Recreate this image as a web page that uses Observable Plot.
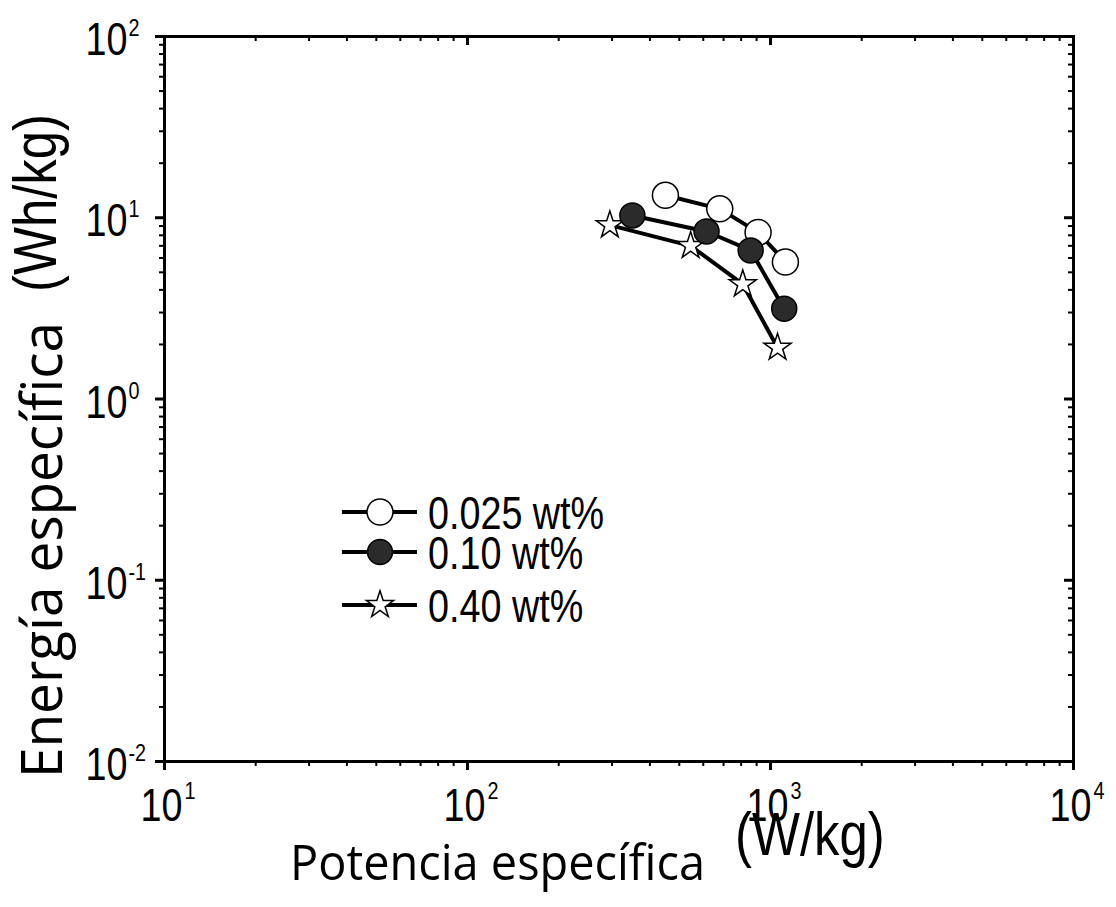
<!DOCTYPE html>
<html><head><meta charset="utf-8">
<script src="https://cdn.jsdelivr.net/npm/d3@7"></script>
<script src="https://cdn.jsdelivr.net/npm/@observablehq/plot@0.6"></script>
<style>html,body{margin:0;padding:0;background:#fff;} svg{display:block}</style>
</head><body><div id="chart"></div>
<script>
// ---- data ----
const seriesLabels = ["0.025 wt%", "0.10 wt%", "0.40 wt%"];
const power025  = [450, 680, 910, 1120];
const energy025 = [13.3, 11.2, 8.3, 5.7];
const power010  = [350, 615, 860, 1110];
const energy010 = [10.3, 8.4, 6.6, 3.15];
const power040  = [295, 545, 810, 1055];
const energy040 = [9.1, 7.0, 4.3, 1.92];
const xTicks = [10, 100, 1000, 10000];
const xTickExp = ["1", "2", "3", "4"];
const yTicks = [0.01, 0.1, 1, 10, 100];
const yTickExp = ["-2", "-1", "0", "1", "2"];
const xLabel = "Potencia específica";
const xUnit = "(W/kg)";
const yLabel = "Energía específica";
const yUnit = "(Wh/kg)";

const rows = (p, e, s) => p.map((x, i) => ({power: x, energy: e[i], series: s}));
const d025 = rows(power025, energy025, seriesLabels[0]);
const d010 = rows(power010, energy010, seriesLabels[1]);
const d040 = rows(power040, energy040, seriesLabels[2]);
const minorOf = ticks => ticks.slice(0, -1).flatMap(d => [2,3,4,5,6,7,8,9].map(k => d * k));
const xMinor = minorOf(xTicks);
const yMinor = minorOf(yTicks);

const W = 1116, H = 907, mL = 164, mR = 43, mT = 36, mB = 146;
const pw = W - mL - mR, ph = H - mT - mB;
const font = '"Liberation Sans", Arial, sans-serif';
const titleFont = '"Open Sans", "Noto Sans", sans-serif';

const chart = Plot.plot({
  width: W, height: H,
  marginLeft: mL, marginRight: mR, marginTop: mT, marginBottom: mB,
  x: {type: "log", domain: [10, 1e4], axis: null},
  y: {type: "log", domain: [0.01, 100], axis: null},
  style: {background: "white", color: "black", fontFamily: font},
  marks: [
    // ticks: bottom/left outward, top/right inward
    Plot.tickX(xTicks, {x: d => d, insetTop: ph, insetBottom: -9, stroke: "black", strokeWidth: 3}),
    Plot.tickX(xMinor, {x: d => d, insetTop: ph, insetBottom: -5, stroke: "black", strokeWidth: 2}),
    Plot.tickX(xTicks, {x: d => d, insetTop: 0, insetBottom: ph - 9, stroke: "black", strokeWidth: 3}),
    Plot.tickX(xMinor, {x: d => d, insetTop: 0, insetBottom: ph - 5, stroke: "black", strokeWidth: 2}),
    Plot.tickY(yTicks, {y: d => d, insetLeft: -9, insetRight: pw, stroke: "black", strokeWidth: 3}),
    Plot.tickY(yMinor, {y: d => d, insetLeft: -5, insetRight: pw, stroke: "black", strokeWidth: 2}),
    Plot.tickY(yTicks, {y: d => d, insetLeft: pw - 9, insetRight: 0, stroke: "black", strokeWidth: 3}),
    Plot.tickY(yMinor, {y: d => d, insetLeft: pw - 5, insetRight: 0, stroke: "black", strokeWidth: 2}),
    Plot.frame({stroke: "black", strokeWidth: 3}),
    // tick labels
    Plot.text(xTicks, {x: d => d, frameAnchor: "bottom", lineAnchor: "middle", text: () => "10", dx: -3, dy: 45, fontSize: 46, fill: "black"}),
    Plot.text(xTicks, {x: d => d, frameAnchor: "bottom", lineAnchor: "middle", text: (d, i) => xTickExp[i], dx: 20, dy: 30, fontSize: 24, textAnchor: "start", fill: "black"}),
    Plot.text(yTicks, {y: d => d, frameAnchor: "left", lineAnchor: "middle", text: () => "10", dx: -37, dy: 4, fontSize: 46, textAnchor: "end", fill: "black"}),
    Plot.text(yTicks, {y: d => d, frameAnchor: "left", lineAnchor: "middle", text: (d, i) => yTickExp[i], dx: -36, dy: -8, fontSize: 24, textAnchor: "start", fill: "black"}),
    // data
    Plot.line(d025, {x: "power", y: "energy", stroke: "black", strokeWidth: 4}),
    Plot.dot(d025, {x: "power", y: "energy", r: 13, fill: "white", stroke: "black", strokeWidth: 1.5}),
    Plot.line(d040, {x: "power", y: "energy", stroke: "black", strokeWidth: 4}),
    Plot.dot(d040, {x: "power", y: "energy", symbol: "star", r: 8.5, fill: "white", stroke: "black", strokeWidth: 1.5}),
    Plot.line(d010, {x: "power", y: "energy", stroke: "black", strokeWidth: 4}),
    Plot.dot(d010, {x: "power", y: "energy", r: 12.5, fill: "#2b2b2b", stroke: "black", strokeWidth: 1.5})
  ]
});
document.getElementById("chart").appendChild(chart);

const svg = d3.select(chart);
// axis titles
svg.append("text").attr("class", "title").attr("data-len", 415).attr("x", 290).attr("y", 880).attr("text-anchor", "start")
  .attr("font-family", titleFont).attr("font-size", 50).attr("fill", "black").text(xLabel);
svg.append("text").attr("x", 735).attr("y", 855).attr("text-anchor", "start")
  .attr("font-family", font).attr("font-size", 62).attr("fill", "black").text(xUnit);
svg.append("text").attr("class", "title").attr("data-len", 456).attr("transform", "translate(62,778) rotate(-90)").attr("text-anchor", "start")
  .attr("font-family", titleFont).attr("font-size", 56).attr("fill", "black").text(yLabel);
svg.append("text").attr("transform", "translate(56,292) rotate(-90)").attr("text-anchor", "start")
  .attr("font-family", font).attr("font-size", 62).attr("fill", "black").text(yUnit);

// legend
const legendY = [512, 552, 605];
const legendStyles = [
  {type: "circle", fill: "white", r: 13},
  {type: "circle", fill: "#2b2b2b", r: 12.5},
  {type: "star", fill: "white", r: 8.5}
];
const lg = svg.append("g");
seriesLabels.forEach((lab, i) => {
  const y = legendY[i], st = legendStyles[i];
  lg.append("line").attr("x1", 342).attr("x2", 417).attr("y1", y).attr("y2", y)
    .attr("stroke", "black").attr("stroke-width", 4);
  if (st.type === "circle") {
    lg.append("circle").attr("cx", 380).attr("cy", y).attr("r", st.r)
      .attr("fill", st.fill).attr("stroke", "black").attr("stroke-width", 1.5);
  } else {
    lg.append("path").attr("transform", `translate(380,${y})`)
      .attr("d", d3.symbol(d3.symbolStar, Math.PI * st.r * st.r)())
      .attr("fill", st.fill).attr("stroke", "black").attr("stroke-width", 1.5);
  }
  lg.append("text").attr("x", 428).attr("y", y).attr("dy", "0.36em").attr("text-anchor", "start")
    .attr("font-family", font).attr("font-size", 46).attr("fill", "black").text(lab);
});

// condense the Arial-like texts to mimic the narrow face of the reference
svg.selectAll("text").each(function() {
  const fixed = this.getAttribute("data-len");
  if (fixed) {
    this.setAttribute("textLength", fixed);
    this.setAttribute("lengthAdjust", "spacingAndGlyphs");
    return;
  }
  const len = this.getComputedTextLength();
  if (len > 0) {
    this.setAttribute("textLength", (len * 0.82).toFixed(1));
    this.setAttribute("lengthAdjust", "spacingAndGlyphs");
  }
});
</script>
</body></html>
